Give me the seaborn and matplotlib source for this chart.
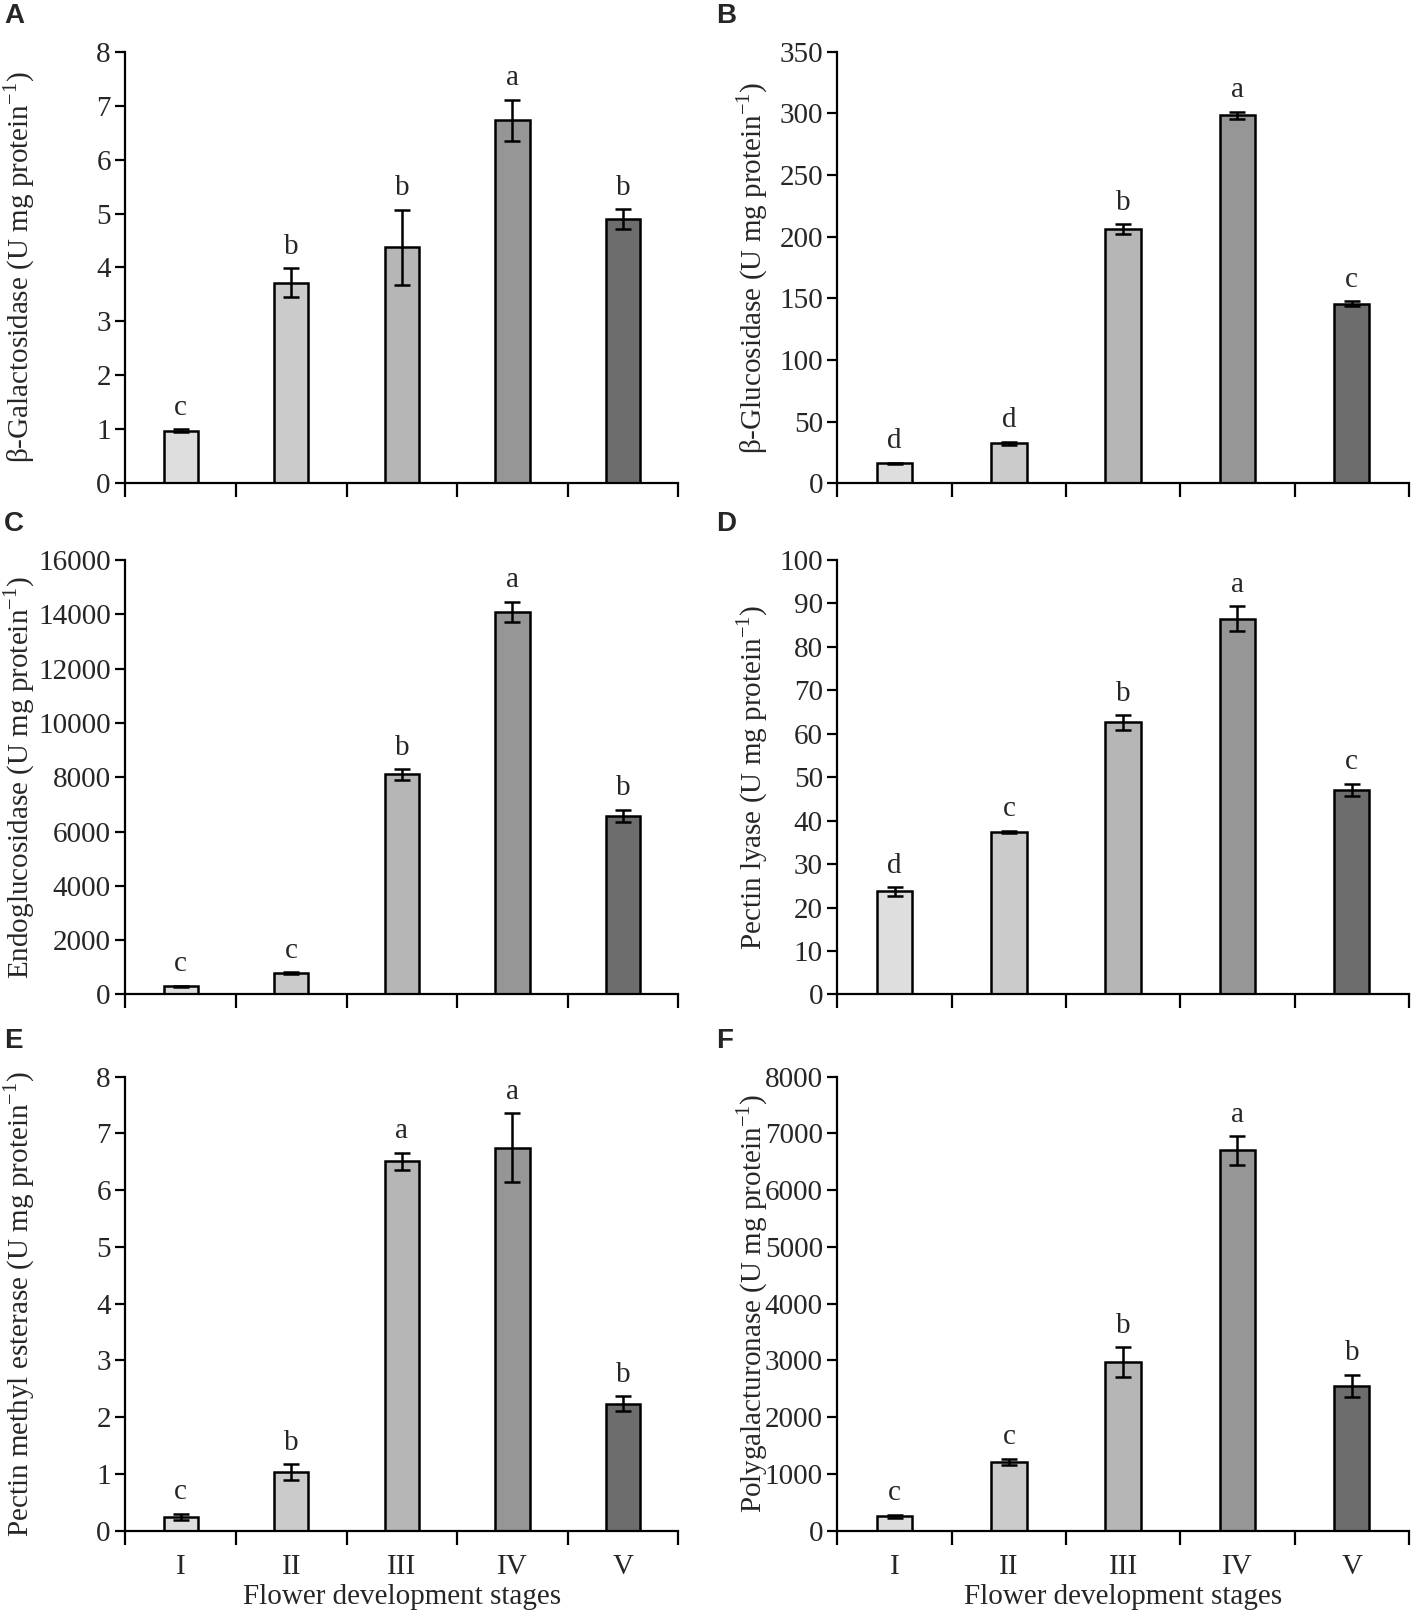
import matplotlib
matplotlib.use("Agg")
import matplotlib.pyplot as plt
import matplotlib.transforms as mtransforms
import seaborn as sns
import numpy as np
import pandas as pd

# data
stages = ["I", "II", "III", "IV", "V"]
bar_colors = ["#dedede", "#cbcbcb", "#b6b6b6", "#969696", "#6d6d6d"]

gal_mean = [0.97, 3.72, 4.37, 6.73, 4.90]
gal_err = [0.03, 0.27, 0.70, 0.38, 0.18]
gal_letters = ["c", "b", "b", "a", "b"]

glu_mean = [16.0, 32.5, 206.0, 298.5, 145.5]
glu_err = [0.6, 1.3, 4.0, 3.0, 2.0]
glu_letters = ["d", "d", "b", "a", "c"]

endo_mean = [300, 780, 8100, 14080, 6570]
endo_err = [20, 40, 200, 380, 230]
endo_letters = ["c", "c", "b", "a", "b"]

pl_mean = [23.7, 37.4, 62.6, 86.5, 47.1]
pl_err = [1.0, 0.3, 1.7, 2.9, 1.4]
pl_letters = ["d", "c", "b", "a", "c"]

pme_mean = [0.24, 1.03, 6.51, 6.75, 2.24]
pme_err = [0.06, 0.14, 0.15, 0.60, 0.13]
pme_letters = ["c", "b", "a", "a", "b"]

pg_mean = [250, 1210, 2970, 6700, 2550]
pg_err = [30, 60, 260, 250, 200]
pg_letters = ["c", "c", "b", "a", "b"]

unit = r" (U mg protein$^{\mathregular{-1}}$)"
panels = [
    ("A", "β-Galactosidase" + unit, gal_mean, gal_err, gal_letters, 8, 1),
    ("B", "β-Glucosidase" + unit, glu_mean, glu_err, glu_letters, 350, 50),
    ("C", "Endoglucosidase" + unit, endo_mean, endo_err, endo_letters, 16000, 2000),
    ("D", "Pectin lyase" + unit, pl_mean, pl_err, pl_letters, 100, 10),
    ("E", "Pectin methyl esterase" + unit, pme_mean, pme_err, pme_letters, 8, 1),
    ("F", "Polygalacturonase" + unit, pg_mean, pg_err, pg_letters, 8000, 1000),
]

sns.set_style("ticks")
plt.rcParams["font.family"] = ["Liberation Serif", "DejaVu Serif"]
plt.rcParams["mathtext.fontset"] = "custom"
plt.rcParams["mathtext.rm"] = "Liberation Serif"

fig = plt.figure(figsize=(14.18, 16.16), dpi=100)

lefts = [0.0884, 0.5906]
widths = [0.39, 0.403]
rows = [(0.701, 0.968), (0.3846, 0.6535), (0.0528, 0.3338)]
label_x = [0.026, 0.543]
fs = 21

for i, (tag, ylab, mean, err, letters, ymax, step) in enumerate(panels):
    r, c = divmod(i, 2)
    bottom, top = rows[r]
    ax = fig.add_axes([lefts[c], bottom, widths[c], top - bottom])
    df = pd.DataFrame({"stage": stages, "value": mean})
    sns.barplot(data=df, x="stage", y="value", hue="stage", palette=bar_colors,
                width=0.31, edgecolor="black", linewidth=1.8, legend=False, ax=ax)
    ax.errorbar(np.arange(5), mean, yerr=err, fmt="none", ecolor="black",
                elinewidth=1.8, capsize=6, capthick=1.8)
    for k in range(5):
        ax.annotate(letters[k], (k, mean[k] + err[k]), xytext=(0, 6),
                    textcoords="offset points", ha="center", va="bottom", fontsize=fs)

    ax.set_xlim(-0.5, 4.5)
    ax.set_ylim(0, ymax)
    ax.set_yticks(np.arange(0, ymax + step / 2, step))
    ax.set_xticks(np.arange(5))
    ax.set_xticks(np.arange(-0.5, 5, 1), minor=True)
    ax.tick_params(axis="x", which="major", length=0, pad=17, labelsize=fs)
    ax.tick_params(axis="x", which="minor", length=10, width=1.6, direction="out", color="black")
    ax.tick_params(axis="y", length=7, width=1.6, direction="out", labelsize=fs, color="black")
    for s in ["left", "bottom"]:
        ax.spines[s].set_linewidth(1.6)
        ax.spines[s].set_color("black")
    sns.despine(ax=ax)

    if r == 2:
        ax.set_xticklabels(stages)
        ax.set_xlabel("Flower development stages", fontsize=fs, labelpad=3)
    else:
        ax.set_xticklabels([])
        ax.set_xlabel("")

    ax.set_ylabel(ylab, fontsize=fs)
    ax.yaxis.set_label_coords(label_x[c], 0.5,
                              transform=mtransforms.blended_transform_factory(fig.transFigure, ax.transAxes))

    fig.text(0.003 if c == 0 else 0.505, top + 0.022, tag, fontsize=20, fontweight="bold",
             family="Liberation Sans", ha="left", va="center")

fig.savefig("out.png", dpi=100)
